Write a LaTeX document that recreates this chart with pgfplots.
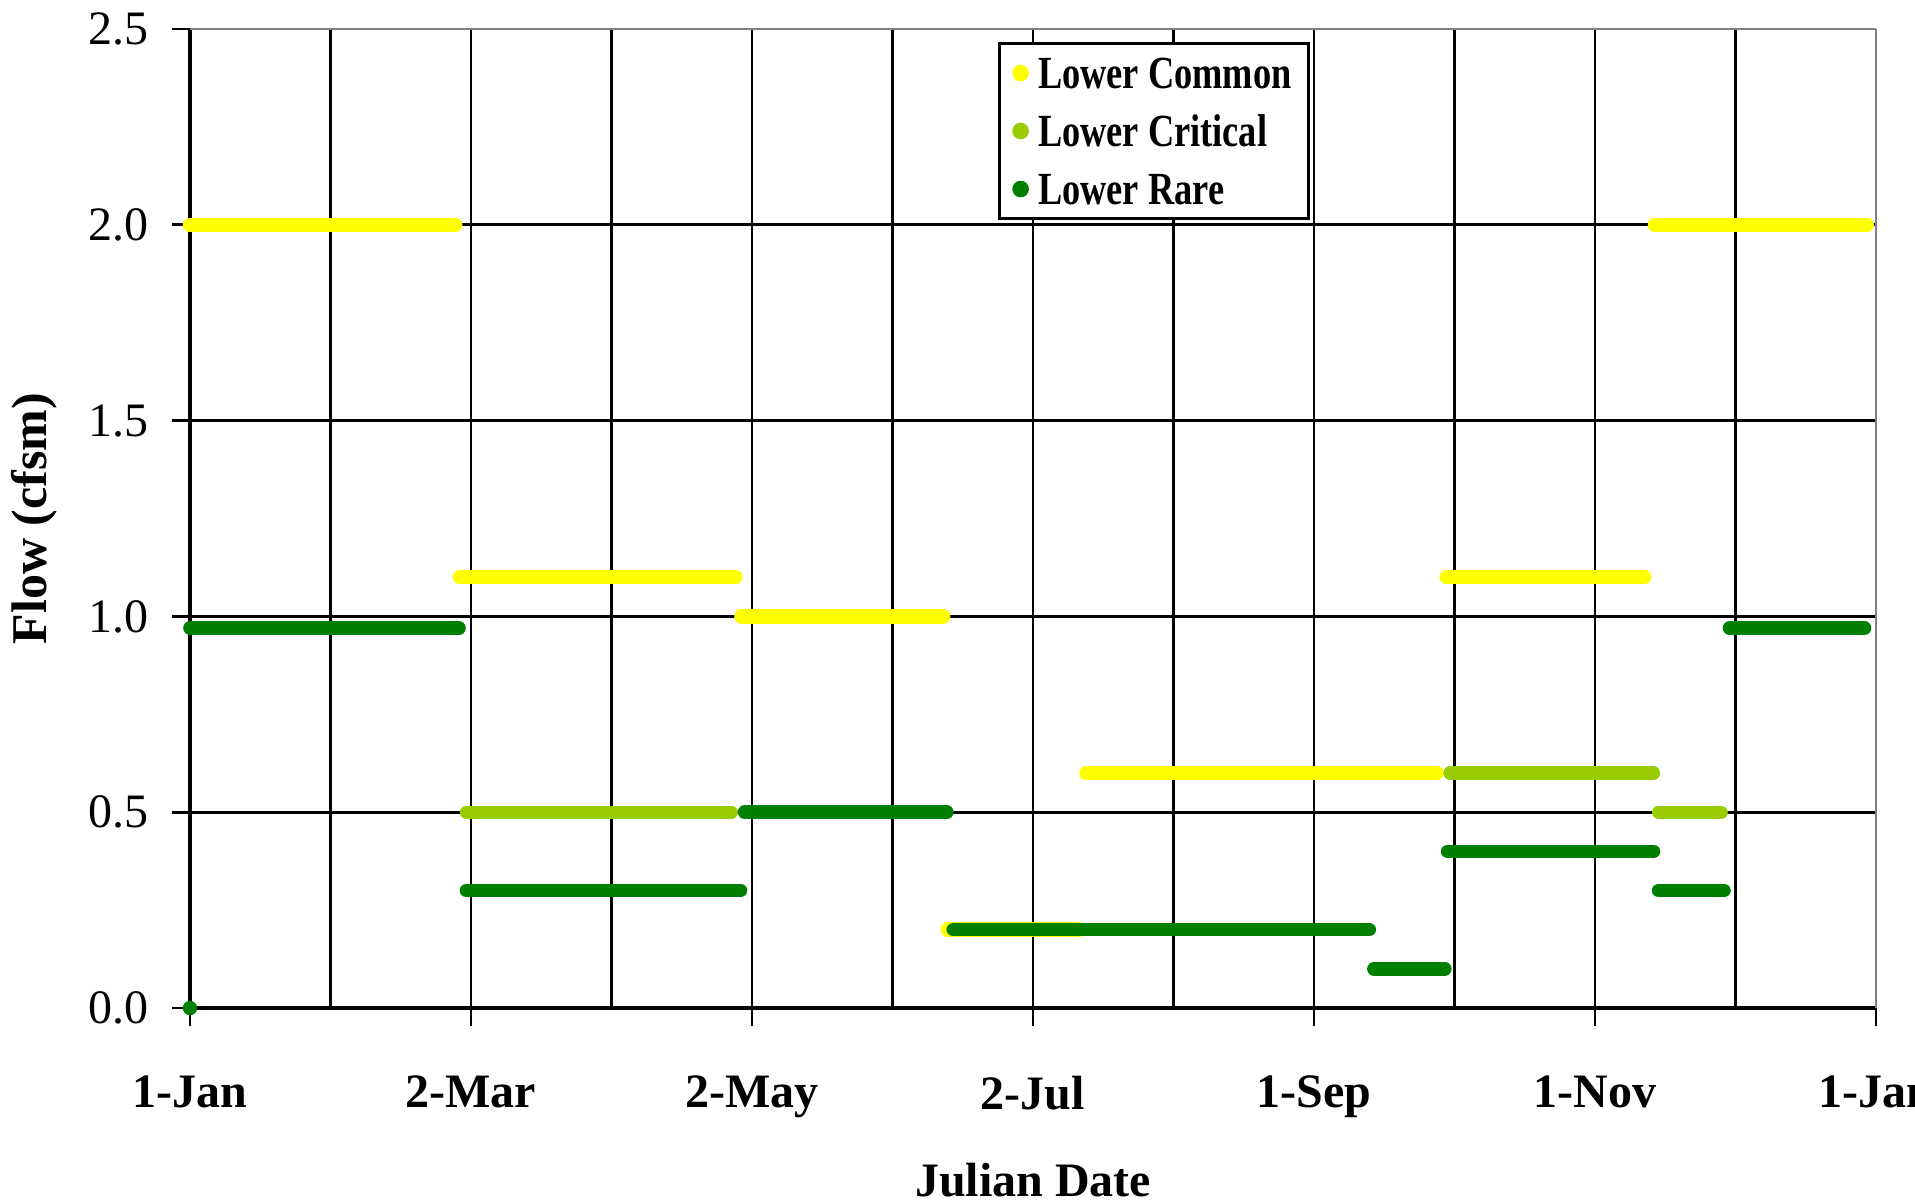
\documentclass[border=0pt]{standalone}
\usepackage{pgfplots}
\usepackage{pgfplotstable}
\usepackage{graphicx}
\pgfplotsset{compat=1.18}
\usepackage{fontspec}
\setmainfont{Liberation Serif}
\definecolor{cYel}{HTML}{FFFF00}
\definecolor{cLgr}{HTML}{99CC00}
\definecolor{cDgr}{HTML}{007F00}

\pgfplotstableread{
x y
0 2.0
57.6 2.0
nan nan
58.6 1.1
118.4 1.1
nan nan
119.7 1.0
163.5 1.0
nan nan
164.5 0.2
193 0.2
nan nan
194.6 0.6
270.6 0.6
nan nan
272.8 1.1
315.7 1.1
nan nan
318 2.0
364 2.0
}\common

\pgfplotstableread{
x y
60 0.5
117.5 0.5
nan nan
273.5 0.6
317.7 0.6
nan nan
318.8 0.5
332.4 0.5
}\critical

\pgfplotstableread{
x y
0 0.97
58.4 0.97
nan nan
60 0.3
119.5 0.3
nan nan
120.4 0.5
164.3 0.5
nan nan
165.7 0.2
256 0.2
nan nan
257 0.1
272.4 0.1
nan nan
273 0.4
317.7 0.4
nan nan
318.8 0.3
333 0.3
nan nan
334.2 0.97
363.5 0.97
}\rare

\begin{document}
\begin{tikzpicture}
\begin{axis}[
  scale only axis, width=421.5pt, height=244.75pt,
  xmin=0, xmax=366, ymin=0, ymax=2.5,
  enlargelimits=false, clip=false,
  axis lines=left, axis line style={-, line width=0.8pt, black},
  xtick={0,61,122,183,244,305},
  xticklabels={1-Jan,2-Mar,2-May,2-Jul,1-Sep,1-Nov},
  extra x ticks={366}, extra x tick labels={1-Jan},
  extra x tick style={major grid style={gray, line width=0.6pt}},
  minor xtick={30.5,91.5,152.5,213.5,274.5,335.5},
  ytick={0,0.5,1.0,1.5,2.0},
  yticklabels={0.0,0.5,1.0,1.5,2.0},
  extra y ticks={2.5}, extra y tick labels={2.5},
  extra y tick style={major grid style={gray, line width=0.5pt}},
  xmajorgrids, ymajorgrids, xminorgrids,
  major grid style={black, line width=0.7pt},
  minor grid style={black, line width=0.7pt},
  tick align=outside, major tick length=4.5pt, minor tick length=0pt,
  tick style={black, line width=0.7pt},
  xticklabel style={font=\bfseries\fontsize{12}{14}\selectfont, yshift=-9pt},
  yticklabel style={font=\fontsize{12}{14}\selectfont, xshift=-2.25pt},
  xlabel={Julian Date},
  xlabel style={font=\bfseries\fontsize{12}{14}\selectfont, at={(axis description cs:0.5,-0.1757)}, anchor=center},
  ylabel={Flow (cfsm)},
  ylabel style={font=\bfseries\fontsize{12.5}{14}\selectfont, at={(axis description cs:-0.0925,0.5)}, anchor=center},
  unbounded coords=jump,
  legend image code/.code={\fill[#1] (0pt,0pt) circle (1.7pt);},
  legend cell align=left,
  legend style={at={(0.479,0.987)}, anchor=north west, draw=black, line width=0.75pt,
    fill=white, font=\bfseries\fontsize{11.5}{13}\selectfont,
    inner xsep=3.3pt, inner ysep=1.2pt, /tikz/column sep=1.3pt, /tikz/row sep=2pt,
    nodes={inner sep=1pt, text height=9pt, text depth=1.5pt}},
]
\addplot[forget plot, cYel, line width=3.6pt, line cap=round, mark=none] table {\common};
\addplot[forget plot, cLgr, line width=3.3pt, line cap=round, mark=none] table {\critical};
\addplot[forget plot, cDgr, line width=3.4pt, line cap=round, mark=none] table {\rare};
\addplot[forget plot, only marks, mark=*, mark size=1.6pt, cDgr] coordinates {(0,0)};
\addlegendimage{cYel}
\addlegendentry{\scalebox{0.79}[1]{Lower Common}}
\addlegendimage{cLgr}
\addlegendentry{\scalebox{0.79}[1]{Lower Critical}}
\addlegendimage{cDgr}
\addlegendentry{\scalebox{0.79}[1]{Lower Rare}}
\end{axis}
\pgfresetboundingbox
\path[use as bounding box] (-47.5pt,-48.5pt) rectangle (431.25pt,252pt);
\end{tikzpicture}
\end{document}
